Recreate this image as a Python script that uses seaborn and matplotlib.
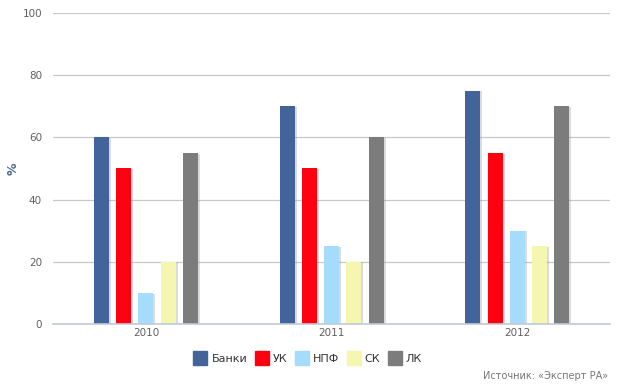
import pandas as pd
import seaborn as sns
import matplotlib.pyplot as plt
import matplotlib.patheffects as pe
from matplotlib.lines import Line2D

years = ["2010", "2011", "2012"]
orgs = ["Банки", "УК", "НПФ", "СК", "ЛК"]
banki = [60, 70, 75]
uk = [50, 50, 55]
npf = [10, 25, 30]
sk = [20, 20, 25]
lk = [55, 60, 70]
colors = ["#43639b", "#ff0010", "#a6dcfb", "#f5f6b0", "#7c7c7c"]

rows = []
for org, vals in zip(orgs, [banki, uk, npf, sk, lk]):
    for y, v in zip(years, vals):
        rows.append({"year": y, "org": org, "value": v})
df = pd.DataFrame(rows)

sns.set_style("white")
plt.rcParams['font.family'] = ['DejaVu Sans']

fig = plt.figure(figsize=(6.17, 3.89), dpi=100)
ax = fig.add_axes([0.086, 0.167, 0.903, 0.80])

sns.barplot(data=df, x="year", y="value", hue="org", order=years, hue_order=orgs,
            palette=colors, width=0.6, gap=0.33, legend=False, ax=ax,
            linewidth=0, saturation=1)

# лёгкая тень как в оригинале
for p in ax.patches:
    p.set_path_effects([pe.SimplePatchShadow(offset=(1.5, -0.5), shadow_rgbFace="#999999", alpha=0.35),
                        pe.Normal()])

ax.set_ylim(0, 100)
ax.set_xlim(-0.5, 2.5)
ax.set_yticks([0, 20, 40, 60, 80, 100])
ax.yaxis.grid(True, color="#c8c8c8", linewidth=0.9)
ax.set_axisbelow(True)
for s in ["top", "right", "left"]:
    ax.spines[s].set_visible(False)
ax.spines["bottom"].set_color("#c0cad8")
ax.spines["bottom"].set_linewidth(1.2)

ax.tick_params(axis="y", length=0, labelsize=7.5, labelcolor="#606060", pad=8)
ax.tick_params(axis="x", which="major", length=0, labelsize=7.5, labelcolor="#606060", pad=3)
ax.set_xticks([-0.5, 0.5, 1.5, 2.5], minor=True)
ax.tick_params(axis="x", which="minor", length=5, color="#c0cad8", width=1)

ax.set_xlabel("")
ax.set_ylabel("%", fontsize=9, fontweight="bold", color="#4d6d96")
ax.yaxis.set_label_coords(-0.06, 0.5)

handles = [Line2D([], [], marker="s", linestyle="", markersize=10, markerfacecolor=c,
                  markeredgecolor=c) for c in colors]
fig.legend(handles, orgs, loc="center", bbox_to_anchor=(0.5, 0.078), ncol=5, frameon=False,
           fontsize=8, handlelength=1.0, handletextpad=0.5, columnspacing=0.8,
           labelcolor="#333333")

fig.text(0.985, 0.02, "Источник: «Эксперт РА»", ha="right", va="bottom", fontsize=7, color="#777777")

fig.savefig("out.png", dpi=100)
